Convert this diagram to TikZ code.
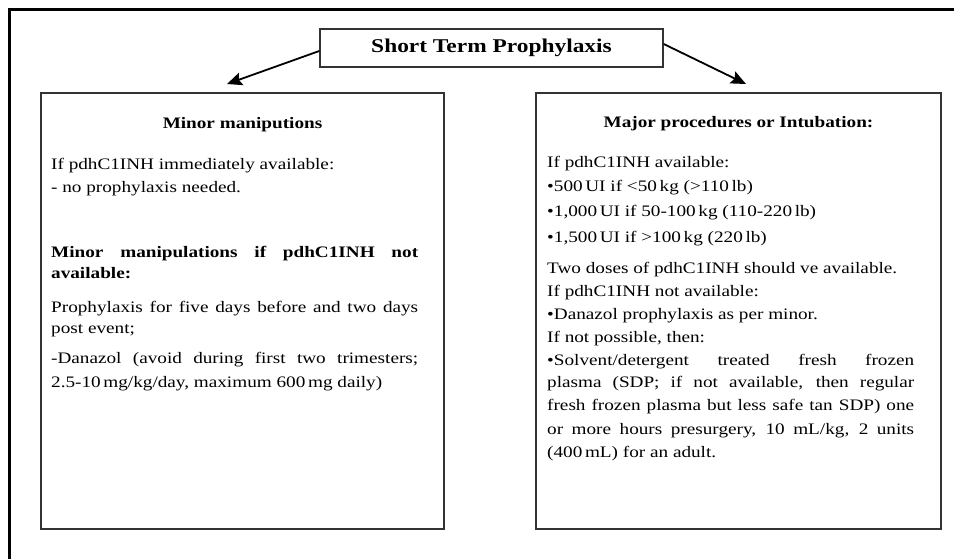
\documentclass[tikz,border=0pt]{standalone}
\usepackage{fontspec}
\setmainfont{Liberation Serif}[FakeStretch=1.2]
\usetikzlibrary{arrows.meta}

\begin{document}
\begin{tikzpicture}[
        x=1pt, y=-1pt,
        font=\fontsize{16}{22}\selectfont,
        box/.style={
            rectangle,
            draw=black!80,
            line width=1.4pt,
            inner sep=0pt
        },
        txt/.style={
            anchor=base west,
            inner sep=0pt,
            text width=367pt,
            align=justify
        },
        head/.style={
            anchor=base,
            inner sep=0pt,
            font=\fontsize{16}{22}\selectfont\bfseries
        },
        arr/.style={
            -{Stealth[length=15pt,width=13pt,inset=2.5pt]},
            line width=1.8pt
        }
    ]
    \useasboundingbox (0,0) rectangle (954,559);

    % Outer frame
    \draw[line width=3pt] (960,10) -- (9,10) -- (9,565);

    % ---------- Title and arrows ----------
    \node[box, minimum width=343pt, minimum height=38pt,
          font=\fontsize{19.5}{22}\selectfont\bfseries] (title) at (491.5,48) {Short Term Prophylaxis};

    \coordinate (ltip) at (227,84);
    \coordinate (rtip) at (746,84);
    \draw[arr] ([yshift=-3pt]title.west) -- (ltip);
    \draw[arr] ([yshift=4pt]title.east) -- (rtip);

    % ---------- Left box: minor manipulations ----------
    \node[box, minimum width=403pt, minimum height=436pt] (lbox) at (242.5,311) {};
    \node[head] (lhead) at (242.5,129) {Minor maniputions};
    \node[txt] (lavail) at (51,170) {If pdhC1INH immediately available:};
    \node[txt] (lnone) at (51,193) {- no prophylaxis needed.};
    \node[txt, font=\fontsize{16}{21}\selectfont\bfseries] (lnot) at (51,257)
        {Minor manipulations if pdhC1INH not\linebreak available:};
    \node[txt, font=\fontsize{16}{21}\selectfont] (lfive) at (51,312)
        {Prophylaxis for five days before and two days\linebreak post event;};
    \node[txt, font=\fontsize{16}{24}\selectfont] (ldanazol) at (51,363)
        {-Danazol (avoid during first two trimesters;\linebreak 2.5-10\,mg/kg/day, maximum 600\,mg daily)};

    % ---------- Right box: major procedures ----------
    \node[box, minimum width=405pt, minimum height=436pt] (rbox) at (738.5,311) {};
    \node[head] (rhead) at (738.5,128) {Major procedures or Intubation:};
    \node[txt] (ravail) at (547,168) {If pdhC1INH available:};
    \node[txt] (rdose1) at (547,192) {\textbullet 500\,UI if <50\,kg (>110\,lb)};
    \node[txt] (rdose2) at (547,217) {\textbullet 1,000\,UI if 50-100\,kg (110-220\,lb)};
    \node[txt] (rdose3) at (547,242) {\textbullet 1,500\,UI if >100\,kg (220\,lb)};
    \node[txt, font=\fontsize{16}{23}\selectfont] (rnot) at (547,273)
        {Two doses of pdhC1INH should ve available.\\
         If pdhC1INH not available:\\
         \textbullet Danazol prophylaxis as per minor.\\
         If not possible, then:\\
         \textbullet Solvent/detergent treated fresh frozen\linebreak
         plasma (SDP; if not available, then regular\linebreak
         fresh frozen plasma but less safe tan SDP) one\linebreak
         or more hours presurgery, 10 mL/kg, 2 units\linebreak
         (400\,mL) for an adult.};

\end{tikzpicture}
\end{document}
